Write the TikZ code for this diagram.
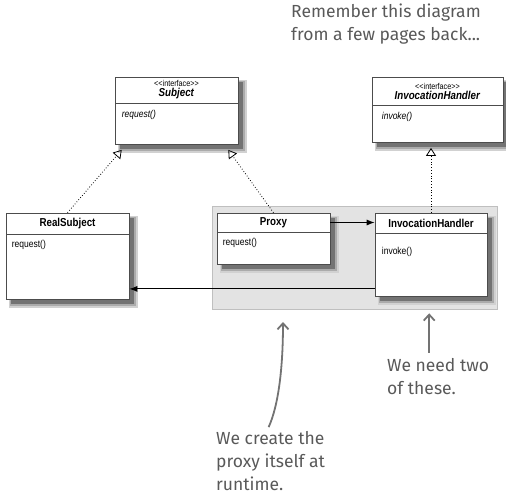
\documentclass[tikz,border=0pt]{standalone}
\usepackage{fontspec}
\newfontfamily\umlfont[FakeStretch=0.85]{Liberation Sans}
\newfontfamily\handfont{Fira Sans}
\usetikzlibrary{shapes,arrows.meta,calc,fit,positioning}

\tikzset{
  classhead/.style={draw=black!70, fill=white, line width=0.6pt, inner sep=1pt, align=center,
    font=\umlfont\fontsize{11.5}{12}\selectfont\bfseries},
  classbody/.style={draw=black!70, fill=white, line width=0.6pt, inner sep=0pt},
  method/.style={inner sep=0pt, anchor=north west, font=\umlfont\fontsize{10}{11}\selectfont},
  dynbox/.style={fill=black!11, draw=black!25, line width=0.6pt},
  realizes/.style={dotted, line width=0.8pt, -{Triangle[open, length=8pt, width=10pt, line width=0.8pt]}},
  call/.style={line width=1pt, -{Latex[length=8pt, width=6pt]}},
  note/.style={align=left, inner sep=0pt, text=black!65, font=\handfont\fontsize{17.5}{23}\selectfont},
  hand/.style={draw=black!55, line width=1.8pt, -{Straight Barb[length=6pt, width=11pt]}},
}
\newcommand{\stereo}{{\fontsize{8.5}{9}\selectfont\mdseries <<interface>>}}

\begin{document}
\begin{tikzpicture}[x=1pt, y=-1pt]
  \useasboundingbox (0,0) rectangle (506,498);

  % runtime part
  \node[dynbox, minimum width=285, minimum height=103] (dynBox) at (354.5,257.5) {};

  % shadows, soft edge in three steps
  \foreach \xa/\ya/\xb/\yb in {115/77/238/144, 372/77/503/142, 6/213/129/299,
                               217/213/330/264, 375/213/487/296}{
    \fill[black!18] (\xa+3,\ya+3) rectangle (\xb+9,\yb+9);
    \fill[black!33] (\xa+4,\ya+4) rectangle (\xb+7,\yb+7);
    \fill[black!55] (\xa+5,\ya+5) rectangle (\xb+5,\yb+5);
  }

  % interfaces
  \node[classhead, minimum width=123, minimum height=26] (subjT) at (176.5,90)
    {\stereo\\[-2pt]\textit{Subject}};
  \node[classbody, minimum width=123, minimum height=41, below=0pt of subjT] (subjB) {};
  \node[method, font=\umlfont\fontsize{10}{11}\selectfont\itshape] (subjM)
    at ([xshift=7pt,yshift=-7pt]subjB.north west) {request()};

  \node[classhead, minimum width=131, minimum height=28] (ifaceT) at (437.5,91)
    {\stereo\\[-2pt]\textit{InvocationHandler}};
  \node[classbody, minimum width=131, minimum height=37, below=0pt of ifaceT] (ifaceB) {};
  \node[method, font=\umlfont\fontsize{10}{11}\selectfont\itshape] (ifaceM)
    at ([xshift=10pt,yshift=-7pt]ifaceB.north west) {invoke()};

  % classes
  \node[classhead, minimum width=123, minimum height=21] (realT) at (67.5,223.5) {RealSubject};
  \node[classbody, minimum width=123, minimum height=65, below=0pt of realT] (realB) {};
  \node[method] (realM) at ([xshift=6pt,yshift=-6pt]realB.north west) {request()};

  \node[classhead, minimum width=113, minimum height=19] (proxyT) at (273.5,222.5) {Proxy};
  \node[classbody, minimum width=113, minimum height=32, below=0pt of proxyT] (proxyB) {};
  \node[method] (proxyM) at ([xshift=6pt,yshift=-6pt]proxyB.north west) {request()};

  \node[classhead, minimum width=112, minimum height=20] (ihT) at (431,223) {InvocationHandler};
  \node[classbody, minimum width=112, minimum height=63, below=0pt of ihT] (ihB) {};
  \node[method] (ihM) at ([xshift=7pt,yshift=-14pt]ihB.north west) {invoke()};

  \draw[realizes] (realT.north) -- ([xshift=7pt,yshift=-5pt]subjB.south west);
  \draw[realizes] (proxyT.north) -- ([xshift=-10pt,yshift=-5pt]subjB.south east);
  \draw[realizes, shorten >=5pt] (ihT.north) -- (ihT.north |- ifaceB.south);

  \draw[call] (proxyT.east) -- (proxyT.east -| ihT.west);
  \draw[call] ([yshift=8pt]ihB.south west) -- ([yshift=8pt]ihB.south west -| realB.east);

  % notes
  \node[note, anchor=west] (remNote) at (291,24) {Remember this diagram\\from a few pages back...};
  \node[note, anchor=west] (needNote) at (387,377) {We need two\\of these.};
  \node[note, anchor=west] (runNote) at (216,461) {We create the\\proxy itself at\\runtime.};

  \coordinate (runTip) at (283,322);
  \draw[hand] ([xshift=-9pt,yshift=6pt]needNote.north) -- ([xshift=-9pt,yshift=-4pt]needNote.north |- dynBox.south);
  \draw[hand] ([xshift=-2pt,yshift=4pt]runNote.north) .. controls +(10,-22) and +(0,45) .. (runTip);
\end{tikzpicture}
\end{document}
